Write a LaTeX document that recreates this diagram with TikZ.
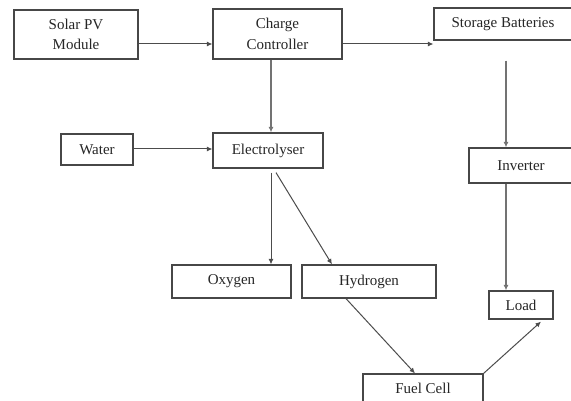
\documentclass[tikz,border=0pt]{standalone}
\usepackage{fontspec}
\setmainfont{Liberation Serif}
\usetikzlibrary{arrows.meta}
\begin{document}
\begin{tikzpicture}[x=1pt,y=-1pt,
  box/.style={draw=black!72, line width=1.2pt, rectangle, inner sep=0pt, align=center,
    font=\fontsize{15}{20.5}\selectfont, text=black!85},
  conn/.style={draw=black!70, line width=1pt, -{Latex[length=5.5pt,width=5pt]}}]
\useasboundingbox (0,0) rectangle (571,401);
\fill[white] (0,0) rectangle (571,401);
\node[box, minimum width=124pt, minimum height=49pt] (solar) at (76,34.5) {Solar PV\\Module};
\node[box, minimum width=129pt, minimum height=50pt] (charge) at (277.5,34) {Charge\\Controller};
\node[box, minimum width=138pt, minimum height=32pt] (storage) at (503,24) {Storage Batteries};
\node[box, minimum width=72pt, minimum height=31pt] (water) at (97,149.5) {Water};
\node[box, minimum width=110pt, minimum height=35pt] (electro) at (268,150.5) {Electrolyser};
\node[box, minimum width=104pt, minimum height=35pt] (inverter) at (521,165.5) {Inverter};
\node[box, minimum width=119pt, minimum height=33pt] (oxygen) at (231.5,281.5) {Oxygen};
\node[box, minimum width=134pt, minimum height=33pt] (hydrogen) at (369,281.5) {Hydrogen};
\node[box, minimum width=64pt, minimum height=28pt] (load) at (521,305) {Load};
\node[box, minimum width=120pt, minimum height=32pt, text depth=4pt] (fuel) at (423,390) {Fuel Cell};

\draw[conn] ([yshift=-9.5pt]solar.east) -- ([yshift=-10pt]charge.west);
\draw[conn] ([yshift=-10pt]charge.east) -- ([yshift=-20pt]storage.west);
\draw[conn, line width=1.5pt, draw=black!55] ([xshift=-6.5pt]charge.south) -- ([xshift=3pt]electro.north);
\draw[conn] ([yshift=0.5pt]water.east) -- ([yshift=1.5pt]electro.west);
\draw[conn, line width=1.5pt, draw=black!55] ([xshift=3pt,yshift=-20pt]storage.south) -- ([xshift=-15pt]inverter.north);
\draw[conn, line width=1.5pt, draw=black!55] ([xshift=-15pt]inverter.south) -- ([xshift=-15pt]load.north);
\draw[conn] ([xshift=3pt,yshift=-4pt]electro.south) -- ([xshift=39.5pt]oxygen.north);
\draw[conn] ([xshift=8pt,yshift=-4pt]electro.south) -- ([xshift=-37pt]hydrogen.north);
\draw[conn] ([xshift=-23pt]hydrogen.south) -- ([xshift=-8pt]fuel.north);
\draw[conn] (fuel.north east) -- ([xshift=20pt,yshift=-2pt]load.south);
\end{tikzpicture}
\end{document}
